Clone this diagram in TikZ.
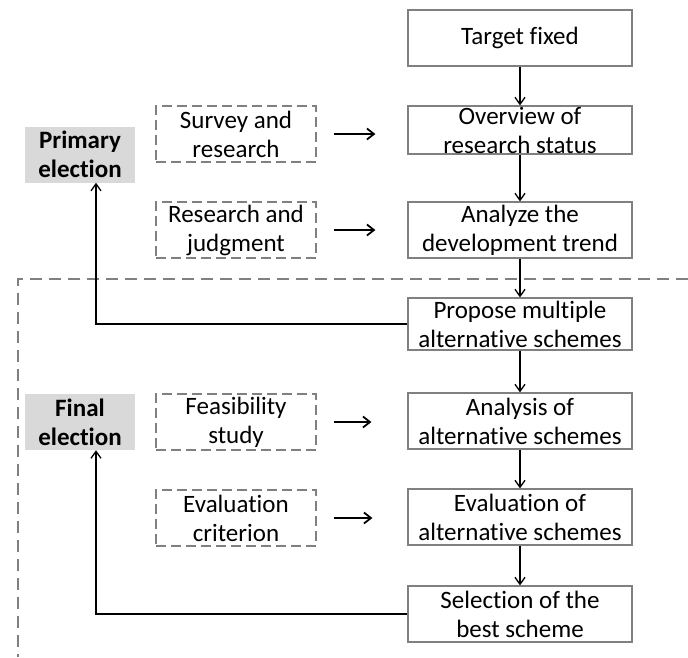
\documentclass[tikz,border=0pt]{standalone}
\usepackage{fontspec}
\setmainfont{Carlito}[RawFeature={-liga;-clig;-calt;-dlig}]
\usetikzlibrary{arrows.meta}
\definecolor{bordergray}{HTML}{808080}
\definecolor{labelgray}{HTML}{D9D9D9}
\begin{document}
\begin{tikzpicture}[x=1pt,y=-1pt,
  mainbox/.style={draw=bordergray,line width=1.2pt,minimum width=224pt,inner sep=0pt,align=center,font=\fontsize{25}{29}\selectfont},
  dbox/.style={draw=bordergray,line width=1.2pt,dash pattern=on 10pt off 5pt,minimum width=160pt,minimum height=56pt,inner sep=0pt,align=center,font=\fontsize{25}{29}\selectfont},
  gbox/.style={fill=labelgray,minimum width=110pt,minimum height=56pt,inner sep=0pt,align=center,font=\fontsize{25}{29}\selectfont\bfseries},
  arr/.style={line width=1.3pt,-{Straight Barb[length=7pt,width=10pt]}},
  sarr/.style={line width=1.8pt,-{Straight Barb[length=7pt,width=11pt]}},
  sep/.style={bordergray,line width=1.2pt,dash pattern=on 12pt off 7pt}
]
\useasboundingbox (0,0) rectangle (688,657);
% main column
\node[mainbox,minimum height=56pt] (tgt) at (520,38) {Target fixed};
\node[mainbox,minimum height=48pt] (over) at (520,130) {Overview of\\research status};
\node[mainbox,minimum height=56pt] (ana) at (520,230) {Analyze the\\development trend};
\node[mainbox,minimum height=52pt] (prop) at (520,324) {Propose multiple\\alternative schemes};
\node[mainbox,minimum height=56pt] (anl) at (520,421) {Analysis of\\alternative schemes};
\node[mainbox,minimum height=56pt] (eval) at (520,517) {Evaluation of\\alternative schemes};
\node[mainbox,minimum height=56pt] (sel) at (520,614) {Selection of the\\best scheme};
% dashed boxes
\node[dbox] (surv) at (236,134) {Survey and\\research};
\node[dbox] (judg) at (236,230) {Research and\\judgment};
\node[dbox] (feas) at (236,422) {Feasibility\\study};
\node[dbox] (crit) at (236,518) {Evaluation\\criterion};
% grey labels
\node[gbox] (prim) at (80,154.5) {Primary\\election};
\node[gbox] (fin) at (80,422) {Final\\election};
% separator
\coordinate (s0) at (18,279);
\coordinate (s1) at (688,279);
\coordinate (s2) at (18,657);
\draw[sep] (s1) -- (s0) -- (s2);
% main arrows
\draw[arr] (tgt) -- (over);
\draw[arr] (over) -- (ana);
\draw[arr] (ana) -- (prop);
\draw[arr] (prop) -- (anl);
\draw[arr] (anl) -- (eval);
\draw[arr] (eval) -- (sel);
% side arrows
\draw[sarr,shorten <=17pt,shorten >=32pt] (surv.east) -- (surv.east -| over.west);
\draw[sarr,shorten <=17pt,shorten >=32pt] (judg.east) -- (judg.east -| ana.west);
\draw[sarr,shorten <=17pt,shorten >=36pt] (feas.east) -- (feas.east -| anl.west);
\draw[sarr,shorten <=17pt,shorten >=35pt] (crit.east) -- (crit.east -| eval.west);
% feedback arrows
\draw[arr] (prop.west) -| ([xshift=16pt]prim.south);
\draw[arr] (sel.west) -| ([xshift=16pt]fin.south);
\end{tikzpicture}
\end{document}
